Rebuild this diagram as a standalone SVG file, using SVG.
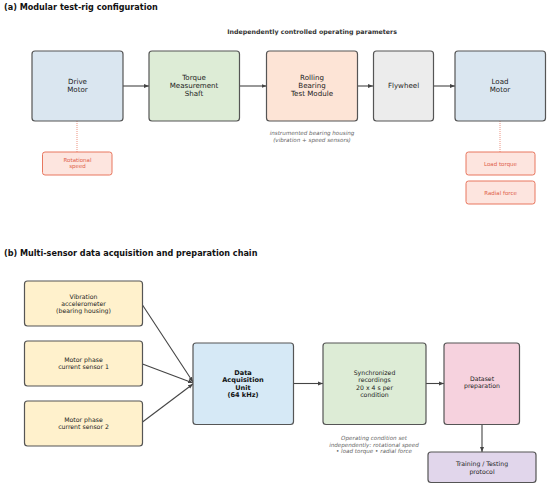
<svg xmlns="http://www.w3.org/2000/svg" width="550" height="497" viewBox="0 0 550 497">
<defs>
<style>
text{font-family:"DejaVu Sans","Liberation Sans",sans-serif;fill:#222;}
.title{font-size:8.1px;font-weight:bold;fill:#111;}
.sub{font-size:6.3px;font-weight:bold;fill:#333;}
.lbl{font-size:7.1px;text-anchor:middle;}
.slbl{font-size:6.2px;text-anchor:middle;}
.blbl{font-size:6.6px;text-anchor:middle;font-weight:bold;fill:#111;}
.note{font-size:5.6px;font-style:italic;text-anchor:middle;fill:#666;}
.plbl{font-size:5.5px;text-anchor:middle;fill:#e0604a;}
.node{stroke:#555;stroke-width:1.2;}
.param{fill:#fde5df;stroke:#e8775f;stroke-width:1;}
.conn{stroke:#444;stroke-width:1.1;fill:none;}
.dot{stroke:#e8775f;stroke-width:0.8;stroke-dasharray:1,1;fill:none;}
</style>
<marker id="ah" viewBox="0 0 10 10" refX="10" refY="5" markerWidth="5" markerHeight="5" orient="auto" markerUnits="userSpaceOnUse">
<path d="M0,1 L10,5 L0,9 z" fill="#444"/>
</marker>
</defs>
<rect width="550" height="497" fill="#fff"/>

<text class="title" x="4" y="10">(a) Modular test-rig configuration</text>
<text class="sub" x="312" y="34" text-anchor="middle">Independently controlled operating parameters</text>

<g id="connectors">
<line class="conn" x1="123" y1="86" x2="149" y2="86" marker-end="url(#ah)"/>
<line class="conn" x1="239.5" y1="86" x2="266.5" y2="86" marker-end="url(#ah)"/>
<line class="conn" x1="357.5" y1="86" x2="373" y2="86" marker-end="url(#ah)"/>
<line class="conn" x1="433.5" y1="86" x2="455" y2="86" marker-end="url(#ah)"/>
<line class="dot" x1="77" y1="121" x2="77" y2="152"/>
<line class="dot" x1="500" y1="121" x2="500" y2="152"/>
<line class="conn" x1="142.5" y1="305" x2="193" y2="382" marker-end="url(#ah)"/>
<line class="conn" x1="142.5" y1="364" x2="193" y2="383" marker-end="url(#ah)"/>
<line class="conn" x1="142.5" y1="422" x2="193" y2="384" marker-end="url(#ah)"/>
<line class="conn" x1="293.5" y1="383.5" x2="323" y2="383.5" marker-end="url(#ah)"/>
<line class="conn" x1="426" y1="383.5" x2="444" y2="383.5" marker-end="url(#ah)"/>
<line class="conn" x1="482" y1="424.5" x2="482" y2="452" marker-end="url(#ah)"/>
</g>

<g id="drive-motor">
<rect class="node" x="32" y="51" width="91" height="70" rx="3" fill="#dae6f0"/>
<text class="lbl" x="77.5" y="83.5">Drive</text>
<text class="lbl" x="77.5" y="91.5">Motor</text>
</g>
<g id="torque-shaft">
<rect class="node" x="149" y="51" width="90.5" height="70" rx="3" fill="#ddecd6"/>
<text class="lbl" x="194" y="80">Torque</text>
<text class="lbl" x="194" y="87.8">Measurement</text>
<text class="lbl" x="194" y="95.6">Shaft</text>
</g>
<g id="bearing-module">
<rect class="node" x="266.5" y="51" width="91" height="70" rx="3" fill="#fde4d6"/>
<text class="lbl" x="312" y="80">Rolling</text>
<text class="lbl" x="312" y="87.8">Bearing</text>
<text class="lbl" x="312" y="95.6">Test Module</text>
</g>
<g id="flywheel">
<rect class="node" x="373.5" y="51" width="60" height="70" rx="3" fill="#ececec"/>
<text class="lbl" x="403.5" y="88.3">Flywheel</text>
</g>
<g id="load-motor">
<rect class="node" x="455" y="51" width="90.5" height="70" rx="3" fill="#dae6f0"/>
<text class="lbl" x="500" y="83.5">Load</text>
<text class="lbl" x="500" y="91.5">Motor</text>
</g>
<g id="bearing-note">
<text class="note" x="312" y="135">instrumented bearing housing</text>
<text class="note" x="312" y="141.5">(vibration + speed sensors)</text>
</g>
<g id="rotational-speed">
<rect class="param" x="42.5" y="152" width="69.5" height="23" rx="2.5"/>
<text class="plbl" x="77.5" y="161.8">Rotational</text>
<text class="plbl" x="77.5" y="168">speed</text>
</g>
<g id="load-torque">
<rect class="param" x="466" y="152" width="69" height="23" rx="2.5"/>
<text class="plbl" x="500.5" y="165.5">Load torque</text>
</g>
<g id="radial-force">
<rect class="param" x="466" y="181" width="69" height="23" rx="2.5"/>
<text class="plbl" x="500.5" y="194.5">Radial force</text>
</g>

<text class="title" x="4" y="256">(b) Multi-sensor data acquisition and preparation chain</text>

<g id="vibration-sensor">
<rect class="node" x="24.5" y="281" width="118" height="45" rx="3" fill="#fff1cc"/>
<text class="slbl" x="83.5" y="298.6">Vibration</text>
<text class="slbl" x="83.5" y="305.9">accelerometer</text>
<text class="slbl" x="83.5" y="313.2">(bearing housing)</text>
</g>
<g id="current-sensor-1">
<rect class="node" x="24.5" y="341" width="118" height="45" rx="3" fill="#fff1cc"/>
<text class="slbl" x="83.5" y="361.8">Motor phase</text>
<text class="slbl" x="83.5" y="369.1">current sensor 1</text>
</g>
<g id="current-sensor-2">
<rect class="node" x="24.5" y="401" width="118" height="45" rx="3" fill="#fff1cc"/>
<text class="slbl" x="83.5" y="421.8">Motor phase</text>
<text class="slbl" x="83.5" y="429.1">current sensor 2</text>
</g>
<g id="daq">
<rect class="node" x="193" y="343" width="100.5" height="81.5" rx="3" fill="#d6e9f6"/>
<text class="blbl" x="243" y="374.5">Data</text>
<text class="blbl" x="243" y="382">Acquisition</text>
<text class="blbl" x="243" y="389.5">Unit</text>
<text class="blbl" x="243" y="397">(64 kHz)</text>
</g>
<g id="sync-recordings">
<rect class="node" x="323" y="343" width="103" height="81.5" rx="3" fill="#ddecd6"/>
<text class="slbl" x="374.5" y="375">Synchronized</text>
<text class="slbl" x="374.5" y="382.3">recordings</text>
<text class="slbl" x="374.5" y="389.6">20 x 4 s per</text>
<text class="slbl" x="374.5" y="396.9">condition</text>
</g>
<g id="dataset-prep">
<rect class="node" x="444" y="343" width="75.5" height="81.5" rx="3" fill="#f6d2de"/>
<text class="slbl" x="482" y="381">Dataset</text>
<text class="slbl" x="482" y="388.3">preparation</text>
</g>
<g id="training-testing">
<rect class="node" x="428" y="452" width="108" height="30.5" rx="3" fill="#e1d6eb"/>
<text class="slbl" x="482" y="466.3">Training / Testing</text>
<text class="slbl" x="482" y="473.6">protocol</text>
</g>
<g id="condition-note">
<text class="note" x="374" y="440">Operating condition set</text>
<text class="note" x="374" y="446.5">independently: rotational speed</text>
<text class="note" x="374" y="453">• load torque • radial force</text>
</g>
</svg>
